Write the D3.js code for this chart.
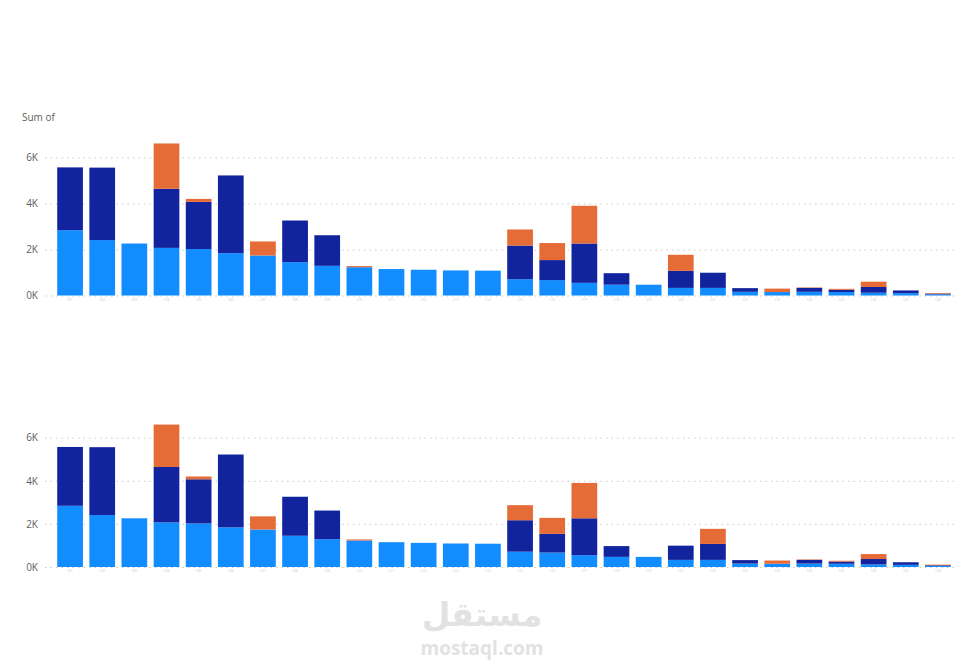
<!DOCTYPE html>
<html>
<head>
<meta charset="utf-8">
<script src="https://cdn.jsdelivr.net/npm/d3@7"></script>
<style>
body { margin: 0; background: #fff; }
text { font-family: "Open Sans", "DejaVu Sans", sans-serif; }
</style>
</head>
<body>
<script>
// categories (names are blurred in the source, so placeholders)
var categories = ["C01","C02","C03","C04","C05","C06","C07","C08","C09","C10",
                  "C11","C12","C13","C14","C15","C16","C17","C18","C19","C20",
                  "C21","C22","C23","C24","C25","C26","C27","C28"];
var seriesNames = ["Series A", "Series B", "Series C"];
var lightValues  = [2840,2410,2260,2070,2020,1840,1740,1450,1290,1230,1150,1120,1090,1080,710,670,550,470,470,330,330,160,150,160,150,120,100,50];
var darkValues   = [2730,3150,0,2570,2050,3380,0,1810,1330,0,0,0,0,0,1460,870,1710,500,0,740,660,160,0,170,100,250,120,30];
var orangeValues = [0,0,0,1970,130,0,610,0,0,50,0,0,0,0,700,740,1640,0,0,700,0,0,150,20,40,230,0,30];
// the lower chart has the two tied categories in the other order
var topOrder = categories.slice();
var bottomOrder = ["C01","C02","C03","C04","C05","C06","C07","C08","C09","C10",
                   "C11","C12","C13","C14","C15","C16","C17","C18","C19","C21",
                   "C20","C22","C23","C24","C25","C26","C27","C28"];
var yTicks = [0, 2000, 4000, 6000];

var width = 966, height = 671;

const svg = d3.select("body").append("svg")
    .attr("width", width)
    .attr("height", height);

var color = d3.scaleOrdinal()
    .domain(seriesNames)
    .range(["#118DFF", "#12239E", "#E66C37"]);

var rows = categories.map(function(c, i) {
    return {cat: c, "Series A": lightValues[i], "Series B": darkValues[i], "Series C": orangeValues[i]};
});
var stacked = d3.stack().keys(seriesNames)(rows);

function drawChart(order, base, top6k) {
    var g = svg.append("g");

    var x = d3.scaleBand()
        .domain(order)
        .range([54, 954])
        .paddingInner(0.2)
        .paddingOuter(0.1);

    var y = d3.scaleLinear()
        .domain([0, 6000])
        .range([base, top6k]);

    // gridlines + tick labels
    var yAxis = g.append("g")
        .attr("transform", "translate(45,0)")
        .call(d3.axisLeft(y).tickValues(yTicks).tickSize(-910).tickPadding(7)
            .tickFormat(function(d) { return (d / 1000) + "K"; }));
    yAxis.select(".domain").remove();
    yAxis.selectAll("line")
        .attr("stroke", "#c9c9c9")
        .attr("stroke-dasharray", "1.5,4");
    yAxis.selectAll("text")
        .attr("fill", "#605E5C")
        .style("font-size", "10px");

    // bars
    g.selectAll(".series")
        .data(stacked)
        .enter().append("g")
        .attr("fill", function(d) { return color(d.key); })
        .selectAll("rect")
        .data(function(d) { return d.filter(function(p) { return p[1] > p[0]; }); })
        .enter().append("rect")
        .attr("x", function(d) { return x(d.data.cat); })
        .attr("width", x.bandwidth())
        .attr("y", function(d) { return y(d[1]); })
        .attr("height", function(d) { return y(d[0]) - y(d[1]); });

    // category labels (blurred in the source)
    var xAxis = g.append("g")
        .attr("transform", "translate(0," + (base + 2) + ")")
        .call(d3.axisBottom(x).tickSize(0).tickPadding(1));
    xAxis.select(".domain").remove();
    xAxis.selectAll("text")
        .attr("fill", "#c4c4c4")
        .style("font-size", "3px");
}

drawChart(topOrder, 295.5, 157.5);
drawChart(bottomOrder, 567, 437.7);

svg.append("text")
    .attr("x", 22)
    .attr("y", 121)
    .attr("fill", "#605E5C")
    .style("font-size", "10px")
    .text("Sum of");

// watermark
svg.append("text")
    .attr("x", 482)
    .attr("y", 626)
    .attr("text-anchor", "middle")
    .attr("fill", "#e2e2e2")
    .style("font-family", "'DejaVu Sans', sans-serif")
    .style("font-weight", "bold")
    .style("font-size", "33px")
    .text("مستقل");
svg.append("text")
    .attr("x", 482)
    .attr("y", 655)
    .attr("text-anchor", "middle")
    .attr("fill", "#e2e2e2")
    .style("font-weight", "bold")
    .style("font-size", "19px")
    .text("mostaql.com");
</script>
</body>
</html>
